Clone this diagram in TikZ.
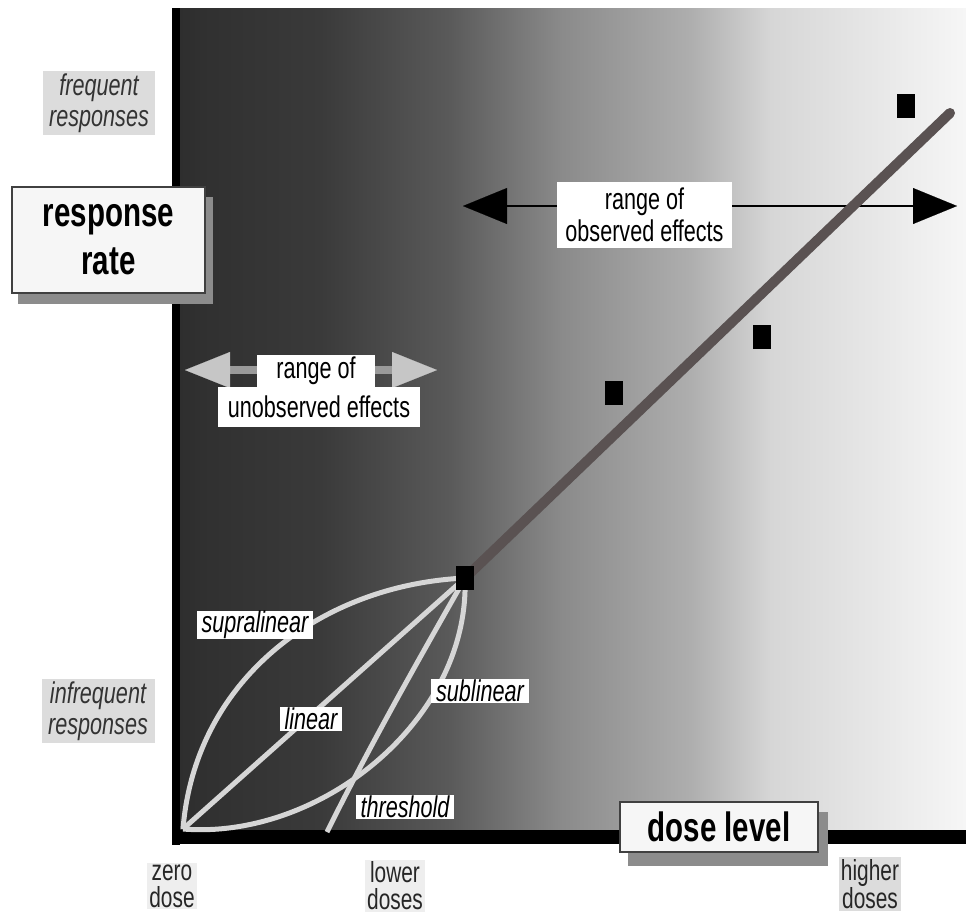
\documentclass[tikz,border=0pt]{standalone}
\usepackage{fontspec}
\setmainfont{Liberation Sans}[FakeStretch=0.72]
\usetikzlibrary{arrows.meta}
\definecolor{curvegray}{HTML}{D6D6D6}
\definecolor{sidegray}{HTML}{DCDCDC}
\definecolor{dosegray}{HTML}{EEEEEE}
\definecolor{shadowgray}{HTML}{8C8C8C}
\definecolor{titlefill}{HTML}{F6F6F6}
\definecolor{trendgray}{HTML}{5A5252}
\definecolor{unobshaft}{HTML}{9A9A9A}
\definecolor{unobhead}{HTML}{C6C6C6}
\definecolor{g0}{HTML}{2E2E2E}
\definecolor{g1}{HTML}{3A3A3A}
\definecolor{g2}{HTML}{5A5A5A}
\definecolor{g3}{HTML}{8A8A8A}
\definecolor{g4}{HTML}{AEAEAE}
\definecolor{g5}{HTML}{D6D6D6}
\definecolor{g6}{HTML}{F6F6F6}
\tikzset{
  curve/.style={draw=curvegray, line width=5pt},
  curvelbl/.style={fill=white, inner xsep=5pt, inner ysep=0.5pt, font=\fontsize{30}{30}\selectfont\itshape},
  sidelbl/.style={fill=sidegray, align=center, inner sep=3pt, text=black!80, font=\fontsize{30}{31}\selectfont\itshape},
  doselbl/.style={fill=dosegray, align=center, inner sep=2pt, text=black!85, font=\fontsize{29}{27}\selectfont},
  titlebox/.style={draw=black!75, line width=1.2pt, fill=titlefill, align=center, inner sep=0pt, font=\bfseries\fontsize{41}{48}\selectfont},
  shadowbox/.style={fill=shadowgray, inner sep=0pt},
  rangelbl/.style={fill=white, align=center, inner xsep=4pt, inner ysep=2pt, font=\fontsize{30}{32}\selectfont},
  datum/.style={fill=black, minimum width=18pt, minimum height=24pt, inner sep=0pt},
  trend/.style={draw=trendgray, line width=10pt, line cap=round},
}
\begin{document}
\begin{tikzpicture}[x=1pt,y=-1pt]
\useasboundingbox (0,0) rectangle (966,916);
\fill[white] (0,0) rectangle (966,916);
% graded background
\shade[left color=g0, right color=g1] (176,8) rectangle (320.5,832);
\shade[left color=g1, right color=g2] (320,8) rectangle (450.5,832);
\shade[left color=g2, right color=g3] (450,8) rectangle (560.5,832);
\shade[left color=g3, right color=g4] (560,8) rectangle (690.5,832);
\shade[left color=g4, right color=g5] (690,8) rectangle (770.5,832);
\shade[left color=g5, right color=g6] (770,8) rectangle (966,832);
% axes
\fill[black] (172,8) rectangle (180,845);
\fill[black] (172,830) rectangle (966,844);

% observed range arrow
\coordinate (obsL) at (463,206);
\coordinate (obsR) at (957,206);
\draw[line width=2pt, {Triangle[length=44pt,width=36pt,line width=0.1pt]}-{Triangle[length=44pt,width=36pt,line width=0.1pt]}] (obsL) -- (obsR);
\node[rangelbl, minimum width=175pt, minimum height=66pt] (obs) at (644.5,215) {range of\\observed effects};

% unobserved range arrow
\coordinate (unoL) at (185,370);
\coordinate (unoR) at (437,370);
\draw[line width=8pt, draw=unobshaft, {Triangle[length=45pt,width=36pt,line width=0.1pt,color=unobhead]}-{Triangle[length=45pt,width=36pt,line width=0.1pt,color=unobhead]}] (unoL) -- (unoR);
\node[rangelbl, inner ysep=0pt, minimum width=118pt, minimum height=33pt] (uno1) at (316,371) {range of};
\node[rangelbl, inner ysep=0pt, minimum width=202pt, minimum height=40pt] (uno2) at (319,407) {unobserved effects};

% data points (positions)
\coordinate (O) at (183,829);
\coordinate (T) at (327,832);
\coordinate (tend) at (950,113);
\node[datum] (s1) at (465,578) {};

% low-dose extrapolation curves
\draw[curve] (O) .. controls (195,680) and (320,585) .. (s1.center);
\draw[curve] (O) -- (s1.center);
\draw[curve] (O) .. controls (320,840) and (470,720) .. (s1.center);
\draw[curve] (T) .. controls (375,735) and (430,640) .. (s1.center);

% trend line
\draw[trend] (s1.center) -- (tend);

% squares
\node[datum] (s1b) at (465,578) {};
\node[datum] (s2) at (614,393) {};
\node[datum] (s3) at (762,337) {};
\node[datum] (s4) at (906,106) {};

% curve labels
\node[curvelbl] (supra) at (255,625) {supralinear};
\node[curvelbl] (lin) at (311,719) {linear};
\node[curvelbl] (sub) at (480,691) {sublinear};
\node[curvelbl] (thr) at (405,807) {threshold};

% title boxes
\node[shadowbox, minimum width=195pt, minimum height=107pt] (rrshadow) at (115.5,250.5) {};
\node[titlebox, minimum width=193pt, minimum height=106pt] (rr) at (108.5,240) {response\\rate};
\node[shadowbox, minimum width=200pt, minimum height=54pt] (dlshadow) at (728,839) {};
\node[titlebox, minimum width=198pt, minimum height=50pt] (dl) at (719,827) {dose level};

% side labels
\node[sidelbl, minimum width=112pt, minimum height=63pt] (freq) at (99,103) {frequent\\responses};
\node[sidelbl, minimum width=113pt, minimum height=63pt] (infreq) at (98,711) {infrequent\\responses};
\node[doselbl] (zero) at (172,886) {zero\\dose};
\node[doselbl] (lower) at (395,886) {lower\\doses};
\node[doselbl, fill=sidegray] (higher) at (870,884) {higher\\doses};
\end{tikzpicture}
\end{document}
